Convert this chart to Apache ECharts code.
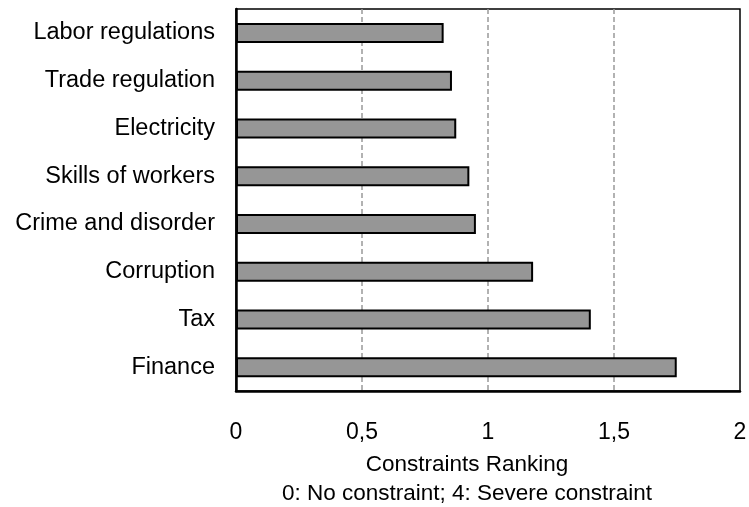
<!DOCTYPE html>
<html>
<head>
<meta charset="utf-8">
<script src="https://cdn.jsdelivr.net/npm/echarts@6/dist/echarts.min.js"></script>
<style>
html,body{margin:0;padding:0;background:#fff;}
#c{width:749px;height:507px;}
</style>
</head>
<body>
<div id="c"></div>
<script>
const categories = ["Labor regulations","Trade regulation","Electricity","Skills of workers","Crime and disorder","Corruption","Tax","Finance"];
const values = [0.824,0.857,0.874,0.926,0.952,1.179,1.408,1.749];
const xTicks = [0,0.5,1,1.5,2];
const axisTitle = "Constraints Ranking\n0: No constraint; 4: Severe constraint";

const chart = echarts.init(document.getElementById('c'), null, {renderer:'canvas'});
const font = '"Liberation Sans", Arial, sans-serif';
chart.setOption({
  animation:false,
  backgroundColor:'#fff',
  grid:{left:236,top:9,width:504,height:382,show:true,borderColor:'#000',borderWidth:1.5,backgroundColor:'transparent',
    containLabel:false,outerBoundsMode:'none'},
  xAxis:{
    type:'value',min:xTicks[0],max:xTicks[xTicks.length-1],interval:0.5,
    axisLine:{show:true,lineStyle:{color:'#000',width:2.5}},
    axisTick:{show:false},
    splitLine:{show:true,showMinLine:false,showMaxLine:false,lineStyle:{color:'#999',width:1.5,type:[5,3]}},
    axisLabel:{color:'#000',fontSize:23,fontFamily:font,margin:30,lineHeight:23,
      formatter:v=>String(v).replace('.',',')},
    name:axisTitle,nameLocation:'middle',nameGap:60,
    nameTextStyle:{color:'#000',fontSize:22.5,fontFamily:font,lineHeight:28.5,align:'center',padding:[0,42,0,0]}
  },
  yAxis:{
    type:'category',data:categories,inverse:true,
    axisLine:{show:true,lineStyle:{color:'#000',width:2.5}},
    axisTick:{show:false},
    axisLabel:{color:'#000',fontSize:23.5,fontFamily:font,margin:21}
  },
  series:[{
    type:'bar',data:values,barWidth:20,
    itemStyle:{color:'#969696',borderColor:'#000',borderWidth:2}
  }]
});
</script>
</body>
</html>
